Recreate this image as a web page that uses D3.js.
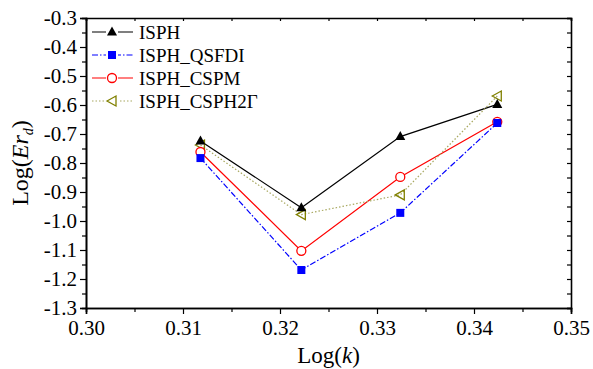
<!DOCTYPE html>
<html>
<head>
<meta charset="utf-8">
<script src="https://cdn.jsdelivr.net/npm/d3@7"></script>
<style>
    body { margin: 0; background: #fff; }
    svg text { font-family: "Liberation Serif", "DejaVu Serif", serif; fill: #000; }
</style>
</head>
<body>
<div id="chart"></div>
<script>
(function () {
    'use strict';

    // x values: Log(k)
    var logK = [0.3118, 0.3222, 0.3324, 0.3424];

    var seriesNames = ['ISPH', 'ISPH_QSFDI', 'ISPH_CSPM', 'ISPH_CSPH2\u0393'];
    var isph = [-0.724, -0.954, -0.709, -0.598];
    var isphQsfdi = [-0.783, -1.169, -0.972, -0.662];
    var isphCspm = [-0.762, -1.103, -0.848, -0.658];
    var isphCsph2g = [-0.738, -0.978, -0.910, -0.569];

    var xTicks = [0.30, 0.31, 0.32, 0.33, 0.34, 0.35];
    var yTicks = [-0.3, -0.4, -0.5, -0.6, -0.7, -0.8, -0.9, -1.0, -1.1, -1.2, -1.3];

    var width = 593, height = 369;
    var margin = { top: 18, right: 22, bottom: 61, left: 86 };
    var w = width - margin.left - margin.right;
    var h = height - margin.top - margin.bottom;

    var x = d3.scaleLinear().domain([0.30, 0.35]).range([0, w]);
    var y = d3.scaleLinear().domain([-1.3, -0.3]).range([h, 0]);

    var serif = '"Liberation Serif", "DejaVu Serif", serif';
    var fmtY = function (d) { return d.toFixed(1); };

    var svg = d3.select('#chart').append('svg')
        .attr('width', width)
        .attr('height', height);
    var g = svg.append('g')
        .attr('transform', 'translate(' + margin.left + ',' + margin.top + ')');

    // minor ticks
    var xMinor = d3.range(0.305, 0.35, 0.01);
    var yMinor = d3.range(-1.25, -0.3, 0.1);

    // bottom axis
    var xAxis = g.append('g')
        .attr('transform', 'translate(0,' + h + ')')
        .call(d3.axisBottom(x).tickValues(xTicks).tickFormat(d3.format('.2f'))
            .tickSize(6).tickPadding(6));
    xAxis.attr('font-family', serif).attr('font-size', 21);
    g.append('g')
        .attr('transform', 'translate(0,' + h + ')')
        .call(d3.axisBottom(x).tickValues(xMinor).tickFormat('').tickSize(4));

    // left axis
    var yAxis = g.append('g')
        .call(d3.axisLeft(y).tickValues(yTicks).tickFormat(fmtY)
            .tickSize(6).tickPadding(3));
    yAxis.attr('font-family', serif).attr('font-size', 21);
    g.append('g')
        .call(d3.axisLeft(y).tickValues(yMinor).tickFormat('').tickSize(4));

    // top and right axes, ticks pointing in
    g.append('g')
        .call(d3.axisTop(x).tickValues(xTicks.concat(xMinor)).tickFormat('').tickSize(-3));
    g.append('g')
        .attr('transform', 'translate(' + w + ',0)')
        .call(d3.axisRight(y).tickValues(yTicks.concat(yMinor)).tickFormat('').tickSize(-4));

    g.selectAll('.domain').attr('stroke', '#000').attr('stroke-width', 1.6);
    g.selectAll('.tick line').attr('stroke', '#000').attr('stroke-width', 1.2);

    // axis titles
    svg.append('text')
        .attr('x', margin.left + w / 2)
        .attr('y', height - 6)
        .attr('text-anchor', 'middle')
        .style('font-size', '23px')
        .html('Log(<tspan font-style="italic">k</tspan>)');

    svg.append('text')
        .attr('transform', 'translate(28,' + (margin.top + h / 2) + ') rotate(-90)')
        .attr('text-anchor', 'middle')
        .style('font-size', '24px')
        .html('Log(<tspan font-style="italic">Er</tspan><tspan font-style="italic" font-size="14px" dy="5">d</tspan><tspan dy="-5">)</tspan>');

    var styles = [
        { values: isph, color: '#000', lineColor: '#000', dash: null, marker: 'triUp' },
        { values: isphQsfdi, color: '#0000ff', lineColor: '#0000ff', dash: '6,2,1.5,2', marker: 'square' },
        { values: isphCspm, color: '#ff0000', lineColor: '#ff0000', dash: null, marker: 'circle' },
        { values: isphCsph2g, color: '#808000', lineColor: '#a8a860', dash: '1.5,2', marker: 'triLeft' }
    ];

    var line = d3.line()
        .x(function (d, i) { return x(logK[i]); })
        .y(function (d) { return y(d); });

    function drawMarker(sel, type, color) {
        if (type === 'triUp') {
            sel.append('path').attr('d', 'M0,-5.5L5,3.5L-5,3.5Z').attr('fill', color);
        } else if (type === 'square') {
            sel.append('rect').attr('x', -4).attr('y', -4).attr('width', 8).attr('height', 8).attr('fill', color);
        } else if (type === 'circle') {
            sel.append('circle').attr('r', 4.5).attr('fill', '#fff').attr('stroke', color).attr('stroke-width', 1.3);
        } else {
            sel.append('path').attr('d', 'M-5,0L4,-5L4,5Z').attr('fill', 'none').attr('stroke', color).attr('stroke-width', 1.3);
        }
    }

    var plot = g.append('g');
    styles.forEach(function (s) {
        plot.append('path')
            .datum(s.values)
            .attr('d', line)
            .attr('fill', 'none')
            .attr('stroke', s.lineColor)
            .attr('stroke-width', 1.2)
            .attr('stroke-dasharray', s.dash);
    });
    // draw markers back to front so the black triangle stays on top
    styles.slice().reverse().forEach(function (s) {
        plot.selectAll(null)
            .data(s.values)
            .enter()
            .append('g')
            .attr('transform', function (d, i) { return 'translate(' + x(logK[i]) + ',' + y(d) + ')'; })
            .each(function () { drawMarker(d3.select(this), s.marker, s.color); });
    });

    // legend
    var legend = g.selectAll('.legend')
        .data(styles)
        .enter()
        .append('g')
        .attr('class', 'legend')
        .attr('transform', function (d, i) { return 'translate(6,' + (14 + i * 23) + ')'; });
    legend.append('line')
        .attr('x1', 0).attr('x2', 41)
        .attr('stroke', function (d) { return d.lineColor; })
        .attr('stroke-width', 1.2)
        .attr('stroke-dasharray', function (d) { return d.dash; });
    legend.append('g')
        .attr('transform', 'translate(20,0)')
        .each(function (d) {
            d3.select(this).append('rect').attr('x', -6).attr('y', -6).attr('width', 12).attr('height', 12).attr('fill', '#fff');
            drawMarker(d3.select(this), d.marker, d.color);
        });
    legend.append('text')
        .attr('x', 47)
        .attr('dy', '0.35em')
        .style('font-size', '19px')
        .text(function (d, i) { return seriesNames[i]; });
})();
</script>
</body>
</html>
